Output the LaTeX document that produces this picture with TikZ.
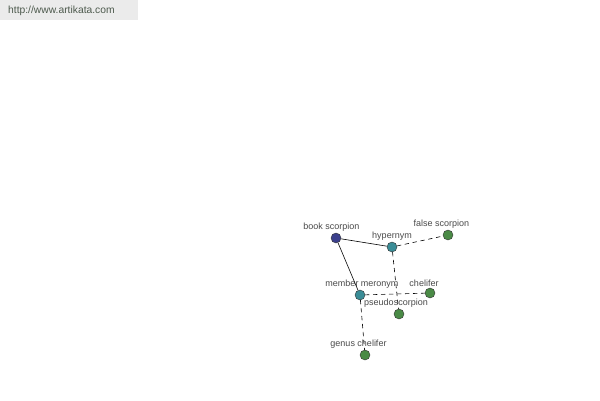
\documentclass[tikz,border=0pt]{standalone}
\usepackage{fontspec}
\setmainfont{Liberation Sans}
\definecolor{navyn}{HTML}{3B3F8C}
\definecolor{tealn}{HTML}{3A8C96}
\definecolor{leafn}{HTML}{4A8A46}
\definecolor{inkg}{HTML}{4A4A4A}
\definecolor{urlbg}{HTML}{EBEBEB}
\definecolor{urlink}{HTML}{4D5A4D}
\newcommand{\term}[6]{\node[term,fill=#4,label={[lbl,xshift=#6pt]above:#5}] (#1) at (#2,#3) {};}

\begin{document}
\begin{tikzpicture}[x=1pt,y=-1pt,line cap=round,line join=round,
  term/.style={circle,draw=black!80,line width=0.4pt,minimum size=10pt,inner sep=0pt},
  lbl/.style={font=\fontsize{9}{9}\selectfont,text=inkg,inner sep=1pt},
  hardlink/.style={draw=black,line width=0.6pt},
  softlink/.style={draw=black,line width=0.6pt,dash pattern=on 4pt off 4pt}]
  \useasboundingbox (0,0) rectangle (600,400);
  \fill[white] (0,0) rectangle (600,400);
  \fill[urlbg] (0,0) rectangle (138,20);
  \node[anchor=west,font=\fontsize{10.3}{10.3}\selectfont,text=urlink,inner sep=0pt] (url) at (8,11) {http://www.artikata.com};
  \term{book}{336}{238}{navyn}{book scorpion}{-4.5}
  \term{hyper}{392}{247}{tealn}{hypernym}{0}
  \term{falsesc}{448}{235}{leafn}{false scorpion}{-6.5}
  \term{member}{360}{295}{tealn}{member meronym}{2}
  \term{chelifer}{430}{293}{leafn}{chelifer}{-6}
  \term{pseudo}{399}{314}{leafn}{pseudoscorpion}{-3}
  \term{genus}{365}{355}{leafn}{genus chelifer}{-6.5}
  \draw[hardlink] (book) -- (hyper);
  \draw[hardlink] (book) -- (member);
  \draw[softlink] (hyper) -- (falsesc);
  \draw[softlink] (hyper) -- (pseudo);
  \draw[softlink] (member) -- (chelifer);
  \draw[softlink] (member) -- (genus);
\end{tikzpicture}
\end{document}
